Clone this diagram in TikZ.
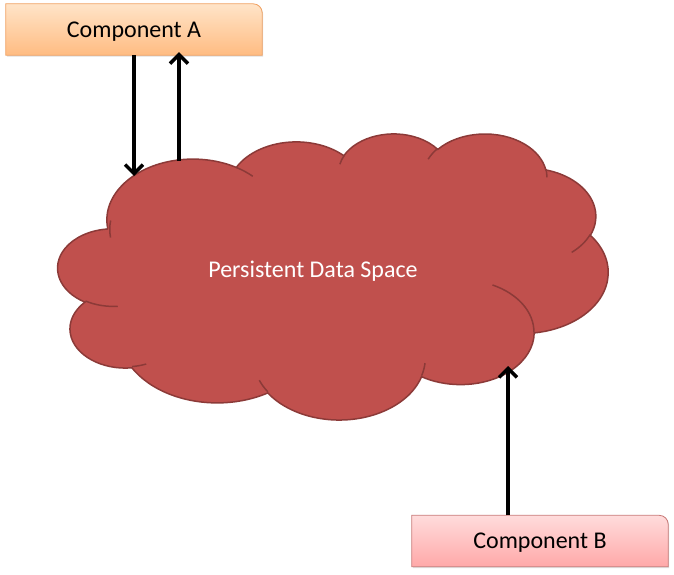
\documentclass[tikz,border=0pt]{standalone}
\usepackage{fontspec}
\setmainfont{Carlito}
\usetikzlibrary{arrows.meta,shadows,backgrounds}
\definecolor{cloudred}{HTML}{C0504D}
\definecolor{cloudedge}{HTML}{8C3A38}
\definecolor{peachtop}{HTML}{FFE4C8}
\definecolor{peachbot}{HTML}{FFBC82}
\definecolor{peachedge}{HTML}{F0A060}
\definecolor{pinktop}{HTML}{FFDCDC}
\definecolor{pinkbot}{HTML}{FFA8A8}
\definecolor{pinkedge}{HTML}{C87876}

\begin{document}
\begin{tikzpicture}[x=1pt,y=-1pt,
    comp/.style={minimum width=256pt,minimum height=51pt,inner sep=0pt,text depth=0pt,font=\fontsize{24}{28}\selectfont},
    boxA/.style={draw=peachedge,line width=0.8pt,top color=peachtop,bottom color=peachbot,
      drop shadow={shadow xshift=1pt,shadow yshift=-1.5pt,opacity=0.25}},
    boxB/.style={draw=pinkedge,line width=0.8pt,top color=pinktop,bottom color=pinkbot,
      drop shadow={shadow xshift=1pt,shadow yshift=-1.5pt,opacity=0.25}},
    cloud/.style={fill=cloudred,draw=cloudedge,line width=1.5pt},
    flow/.style={line width=3.5pt,-{Straight Barb[length=9pt,width=18pt,line width=3.5pt]}}]
  \useasboundingbox (0,0) rectangle (674,575);

  \begin{scope}[shift={(58,133)},x=12.731pt,y=-6.62pt]
    \filldraw[cloud] (3.9,14.37)
      \foreach \rx/\ry/\sa/\da in {6.753/9.19/-190.4875/123.7805, 5.333/7.267/-144.1024/89.9452,
        4.365/5.945/-145.8079/99.7230, 4.857/6.595/-130.9861/117.2417, 5.333/7.273/-78.7089/109.0269,
        6.775/9.22/-46.2673/130.2690, 5.785/7.867/0.6250/114.0333, 6.752/9.215/22.4516/115.1726,
        7.72/10.543/66.2426/75.7110, 4.36/5.918/-274.9421/146.7356, 4.345/5.945/-246.8285/152.5189}{
        \pgfextra{\pgfmathsetmacro\ts{atan2(\rx*sin(\sa),\ry*cos(\sa))}%
          \pgfmathsetmacro\te{atan2(\rx*sin(\sa+\da),\ry*cos(\sa+\da))}%
          \pgfmathsetmacro\dd{\te-\ts}%
          \pgfmathsetmacro\dd{\dd+360*round((\da-\dd)/360)}}
        arc[start angle=\ts,delta angle=\dd,x radius=\rx,y radius=\ry]} -- cycle;
    \draw[cloud,fill=none]
      \foreach \px/\py/\rx/\ry/\sa/\da in {4.693/26.177/4.345/5.945/86.7420/26.4295,
        6.928/34.899/4.36/5.918/73.6105/11.4475, 16.478/39.09/6.752/9.215/137.6242/14.0811,
        28.827/34.751/6.752/9.215/6.4533/15.9984, 34.129/22.954/5.785/7.867/-70.2924/70.9174,
        41.798/15.354/5.333/7.273/30.3180/27.7515, 38.324/5.426/4.857/6.595/-13.7443/14.8589,
        29.078/3.952/4.857/6.595/-149.1815/18.1954, 22.141/4.72/4.365/5.945/-163.4943/17.6864,
        14/5.192/6.753/9.19/-66.7070/12.3194, 4.127/15.789/6.753/9.19/-190.4875/21.7435}{
        \pgfextra{\pgfmathsetmacro\ts{atan2(\rx*sin(\sa),\ry*cos(\sa))}%
          \pgfmathsetmacro\te{atan2(\rx*sin(\sa+\da),\ry*cos(\sa+\da))}%
          \pgfmathsetmacro\dd{\te-\ts}%
          \pgfmathsetmacro\dd{\dd+360*round((\da-\dd)/360)}}
        (\px,\py) arc[start angle=\ts,delta angle=\dd,x radius=\rx,y radius=\ry]};
  \end{scope}
  \node[font=\fontsize{24}{28}\selectfont,text depth=0pt,text=white] (space) at (313,269) {Persistent Data Space};

  \node[comp] (compA) at (134,29.5) {Component A};
  \node[comp] (compB) at (540,541) {Component B};
  \begin{scope}[on background layer]
    \draw[boxA] (compA.south west) -- (compA.north west) -- ([xshift=-9pt]compA.north east)
      arc[start angle=90,end angle=0,radius=9pt] -- (compA.south east) -- cycle;
    \draw[boxB] (compB.south west) -- (compB.north west) -- ([xshift=-9pt]compB.north east)
      arc[start angle=90,end angle=0,radius=9pt] -- (compB.south east) -- cycle;
  \end{scope}

  \coordinate (inA) at (134,176);
  \coordinate (outA) at (179,161);
  \coordinate (inB) at (508,366);
  \draw[flow] (compA.south -| inA) -- (inA);
  \draw[flow] (outA) -- ([yshift=3pt]compA.south -| outA);
  \draw[flow] (compB.north -| inB) -- (inB);
\end{tikzpicture}
\end{document}
